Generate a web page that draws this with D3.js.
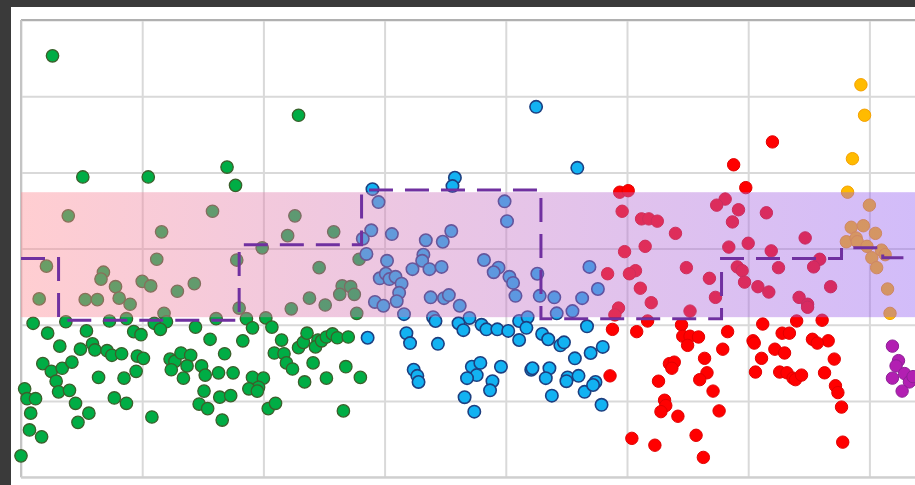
<!DOCTYPE html>
<html>
<head>
<meta charset="utf-8">
<script src="https://cdn.jsdelivr.net/npm/d3@7"></script>
<style>
  html, body { margin: 0; padding: 0; background: #3a3a3a; }
  svg { display: block; }
</style>
</head>
<body>
<svg id="chart" width="915" height="485"></svg>
<script>
// grid ticks (no labels shown in the picture)
const xTicks = [0, 10, 20, 30, 40, 50, 60, 70, 80];
const yTicks = [0, 10, 20, 30, 40, 50, 60];

// normal band
const bandLow = 21.0;
const bandHigh = 37.4;

// dashed step line: start of each step and its level
const stepX = [0, 3.1, 18.0, 28.1, 42.9, 57.8, 67.7, 71.1, 80];
const stepY = [28.7, 20.6, 30.5, 37.7, 20.8, 28.7, 30.1, 28.8, 28.8];

const greenPts = [
  [2.6,55.3],[22.9,47.5],[17.0,40.7],[17.7,38.3],[5.1,39.4],[10.5,39.4],[3.9,34.3],[15.8,34.9],
  [22.6,34.3],[11.6,32.2],[22.0,31.7],[19.9,30.1],[2.1,27.7],[11.2,28.6],[17.8,28.5],[6.8,26.9],
  [6.6,26.0],[7.8,25.0],[10.0,25.7],[10.7,25.1],[14.3,25.4],[12.9,24.4],[1.5,23.4],[5.3,23.3],
  [6.3,23.3],[8.1,23.5],[9.0,22.7],[18.0,22.2],[22.3,22.1],[11.8,21.5],[1.0,20.2],[3.7,20.4],
  [7.3,20.5],[8.7,20.8],[11.0,20.2],[12.0,20.4],[11.5,19.4],[16.1,20.8],[18.6,20.8],[19.1,19.6],
  [20.2,20.9],[20.7,19.7],[14.4,19.7],[2.2,18.9],[5.4,19.2],[9.3,19.1],[9.9,18.7],[15.6,18.1],
  [18.3,17.9],[21.5,18.0],[3.2,17.2],[4.9,16.8],[5.9,17.5],[6.1,16.7],[7.1,16.6],[7.5,16.0],
  [8.3,16.2],[9.6,15.9],[10.1,15.6],[16.8,16.2],[12.3,15.5],[12.7,15.2],[13.2,16.3],[14.0,16.0],
  [13.7,14.6],[1.8,14.9],[2.5,13.9],[3.4,14.3],[4.2,15.1],[2.9,12.6],[6.4,13.1],[8.5,13.0],
  [9.5,13.9],[12.4,14.1],[13.4,13.0],[14.9,14.6],[15.2,13.4],[16.3,13.7],[17.5,13.7],[20.9,16.3],
  [21.7,16.2],[21.9,15.0],[22.4,14.2],[22.9,17.0],[23.3,17.7],[23.6,18.9],[24.5,18.0],[24.3,17.1],
  [24.8,17.9],[25.2,18.4],[25.7,18.8],[26.1,18.3],[27.0,18.4],[27.7,21.5],[24.1,15.0],[26.8,14.5],
  [28.0,13.1],[23.4,12.5],[25.2,13.0],[19.1,13.1],[20.0,13.0],[19.6,11.8],[18.8,11.6],[19.5,11.3],
  [0.3,11.6],[0.5,10.3],[1.2,10.3],[3.1,11.2],[4.0,11.4],[4.5,9.7],[0.8,8.4],[4.7,7.2],
  [5.6,8.4],[7.7,10.4],[8.7,9.7],[10.8,7.9],[15.1,11.3],[14.7,9.6],[15.4,9.0],[16.4,10.5],
  [17.3,10.7],[16.6,7.5],[20.4,9.0],[21.0,9.7],[26.6,8.7],[0.7,6.2],[1.7,5.3],[0.0,2.8],
  [25.8,32.2],[24.6,27.5],[27.9,28.6],[26.5,25.1],[27.2,25.0],[26.3,24.0],[27.5,24.0],[23.8,23.5],
  [25.1,22.6]
];

const bluePts = [
  [42.5,48.6],[45.9,40.6],[35.8,39.3],[35.6,38.2],[29.0,37.8],[29.5,36.1],[39.9,36.2],[40.1,33.6],
  [28.9,32.4],[28.2,31.3],[30.6,31.9],[33.4,31.1],[34.8,30.9],[35.5,32.3],[28.5,29.3],[30.2,28.4],
  [33.2,29.2],[33.1,28.4],[32.3,27.3],[33.7,27.3],[34.7,27.6],[38.2,28.5],[39.4,27.5],[39.0,26.9],
  [40.3,26.3],[40.6,25.5],[42.6,26.7],[46.9,27.6],[47.6,24.7],[46.3,23.5],[44.0,23.6],[42.8,23.8],
  [40.8,23.8],[44.2,21.5],[45.5,21.8],[29.6,26.1],[30.1,26.7],[30.4,26.0],[30.9,26.3],[31.4,25.4],
  [31.2,24.2],[31.0,23.1],[29.2,23.0],[29.9,22.5],[31.6,21.4],[33.8,23.6],[34.9,23.5],[35.3,23.9],
  [36.2,22.5],[37.0,20.9],[34.0,21.0],[34.2,20.5],[36.1,20.2],[36.5,19.3],[38.0,20.0],[38.4,19.4],
  [39.3,19.4],[40.2,19.2],[41.1,20.5],[41.8,21.0],[41.7,19.6],[43.0,18.8],[46.7,19.8],[28.6,18.3],
  [31.8,18.9],[32.1,17.6],[34.4,17.5],[41.1,18.0],[43.5,18.1],[44.5,17.3],[44.8,17.7],[45.7,15.6],
  [47.0,16.3],[48.0,17.1],[32.4,14.1],[32.7,13.3],[32.8,12.5],[37.2,14.5],[37.9,15.0],[37.6,13.4],
  [36.8,13.0],[39.6,14.5],[38.9,12.6],[38.7,11.4],[36.6,10.5],[37.4,8.6],[42.1,14.1],[42.2,14.3],
  [43.6,14.3],[43.3,13.0],[43.8,10.7],[45.1,13.1],[45.0,12.6],[46.0,13.3],[46.5,11.2],[47.4,12.5],
  [47.2,12.1],[47.9,9.5]
];

const redPts = [
  [62.0,44.0],[58.8,41.0],[49.4,37.4],[50.1,37.6],[49.6,34.9],[51.2,33.9],[51.8,33.9],[52.5,33.6],
  [54.0,32.0],[51.5,30.3],[49.8,29.6],[59.8,38.0],[58.1,36.5],[57.4,35.7],[59.2,35.1],[58.7,33.5],
  [61.5,34.7],[60.0,30.7],[58.4,30.2],[61.9,29.7],[64.7,31.4],[65.9,28.6],[65.4,27.6],[62.5,27.5],
  [54.9,27.5],[48.4,26.7],[50.7,27.1],[50.2,26.7],[51.1,24.8],[56.8,26.1],[57.3,23.6],[59.1,27.6],
  [59.5,27.1],[59.7,25.6],[60.8,25.0],[61.7,24.3],[64.2,23.6],[64.9,22.7],[64.9,22.3],[66.8,25.0],
  [52.0,22.9],[49.3,22.2],[49.0,21.3],[55.2,21.8],[48.8,19.4],[50.8,19.1],[51.7,20.5],[54.5,20.0],
  [54.6,18.5],[55.2,18.5],[55.9,18.4],[55.0,17.3],[58.3,19.1],[61.2,20.1],[62.8,18.9],[63.4,18.9],
  [64.0,20.5],[66.1,20.6],[60.4,17.9],[65.3,18.1],[66.6,17.9],[57.9,16.8],[56.4,15.6],[56.6,13.7],
  [56.0,12.8],[57.1,11.3],[57.6,8.7],[53.5,14.9],[53.9,15.1],[53.7,14.3],[52.6,12.6],[48.6,13.3],
  [53.1,10.1],[53.2,9.4],[52.8,8.6],[54.2,8.0],[50.4,5.1],[52.3,4.2],[55.7,5.5],[56.3,2.6],
  [60.5,17.6],[61.1,15.6],[62.2,16.8],[63.0,16.3],[60.6,13.8],[62.6,13.8],[63.2,13.7],[63.7,13.0],
  [63.9,12.8],[64.4,13.4],[65.7,17.6],[67.1,15.5],[66.3,13.7],[67.2,12.0],[67.4,11.1],[67.7,9.2],
  [67.8,4.6]
];

const orangePts = [
  [69.3,51.5],[69.6,47.5],[68.6,41.8],[68.2,37.4],[70.0,35.7],[68.5,32.8],[69.5,33.0],[70.5,32.0],
  [68.1,30.9],[68.9,31.4],[69.0,30.9],[69.8,30.3],[71.0,29.8],[71.3,29.2],[70.2,28.8],[70.6,27.5],
  [71.5,24.7],[71.7,21.5]
];

const purplePts = [
  [71.9,17.2],[72.4,15.3],[72.2,14.6],[71.9,13.0],[72.9,13.6],[73.3,12.5],[72.7,11.3],[73.6,13.2]
];

const groups = [
  { pts: greenPts,  fill: "#00ad45", stroke: "#3b5f2b", sw: 1.3 },
  { pts: bluePts,   fill: "#12b2f2", stroke: "#1d3f80", sw: 1.6 },
  { pts: redPts,    fill: "#ff0000", stroke: "#e10000", sw: 1 },
  { pts: orangePts, fill: "#ffbb00", stroke: "#f5a000", sw: 1 },
  { pts: purplePts, fill: "#b21fb2", stroke: "#8e2096", sw: 1 }
];

const svg = d3.select("#chart");
const W = 915, H = 485;
const margin = { left: 21, top: 20, bottom: 477.2 };
const cell = 121.2;

// white panel on dark background
svg.append("rect").attr("x", 11).attr("y", 7).attr("width", W - 11).attr("height", H - 7).attr("fill", "#ffffff");

const x = d3.scaleLinear().domain([0, 80]).range([margin.left, margin.left + cell * 8]);
const y = d3.scaleLinear().domain([0, 60]).range([margin.bottom, margin.top]);

// grid from axes
svg.append("g")
  .attr("transform", `translate(0,${ margin.bottom })`)
  .call(d3.axisBottom(x).tickValues(xTicks).tickSize(-(margin.bottom - margin.top)).tickFormat(""))
  .call(g => g.select(".domain").remove())
  .call(g => g.selectAll(".tick line").attr("stroke", "#d9d9d9").attr("stroke-width", 2));

svg.append("g")
  .attr("transform", `translate(${ margin.left },0)`)
  .call(d3.axisLeft(y).tickValues(yTicks).tickSize(-(cell * 8)).tickFormat(""))
  .call(g => g.select(".domain").remove())
  .call(g => g.selectAll(".tick line").attr("stroke", "#d9d9d9").attr("stroke-width", 2));

// frame
svg.append("line").attr("x1", margin.left).attr("x2", W).attr("y1", y(60)).attr("y2", y(60))
  .attr("stroke", "#b0b0b0").attr("stroke-width", 2);
svg.append("line").attr("x1", margin.left).attr("x2", margin.left).attr("y1", y(60)).attr("y2", y(0))
  .attr("stroke", "#c4c4c4").attr("stroke-width", 2);
svg.append("line").attr("x1", margin.left).attr("x2", W).attr("y1", y(0)).attr("y2", y(0))
  .attr("stroke", "#cfcfcf").attr("stroke-width", 2);

// points
groups.forEach(grp => {
  svg.append("g")
    .selectAll("circle")
    .data(grp.pts)
    .enter()
    .append("circle")
    .attr("cx", d => x(d[0]))
    .attr("cy", d => y(d[1]))
    .attr("r", 6.2)
    .attr("fill", grp.fill)
    .attr("stroke", grp.stroke)
    .attr("stroke-width", grp.sw);
});

// translucent band with gradient
const defs = svg.append("defs");
const grad = defs.append("linearGradient")
  .attr("id", "bandGrad")
  .attr("gradientUnits", "userSpaceOnUse")
  .attr("x1", margin.left).attr("x2", W).attr("y1", 0).attr("y2", 0);
grad.append("stop").attr("offset", "0%").attr("stop-color", "#ff8a92");
grad.append("stop").attr("offset", "100%").attr("stop-color", "#9460f2");

svg.append("rect")
  .attr("x", margin.left)
  .attr("y", y(bandHigh))
  .attr("width", W - margin.left)
  .attr("height", y(bandLow) - y(bandHigh))
  .attr("fill", "url(#bandGrad)")
  .attr("fill-opacity", 0.42);

// dashed step line
const stepData = stepX.map((v, i) => [v, stepY[i]]);
svg.append("path")
  .datum(stepData)
  .attr("fill", "none")
  .attr("stroke", "#7030a0")
  .attr("stroke-width", 3)
  .attr("stroke-dasharray", "24,12")
  .attr("d", d3.line().x(d => x(d[0])).y(d => y(d[1])).curve(d3.curveStepAfter));
</script>
</body>
</html>
